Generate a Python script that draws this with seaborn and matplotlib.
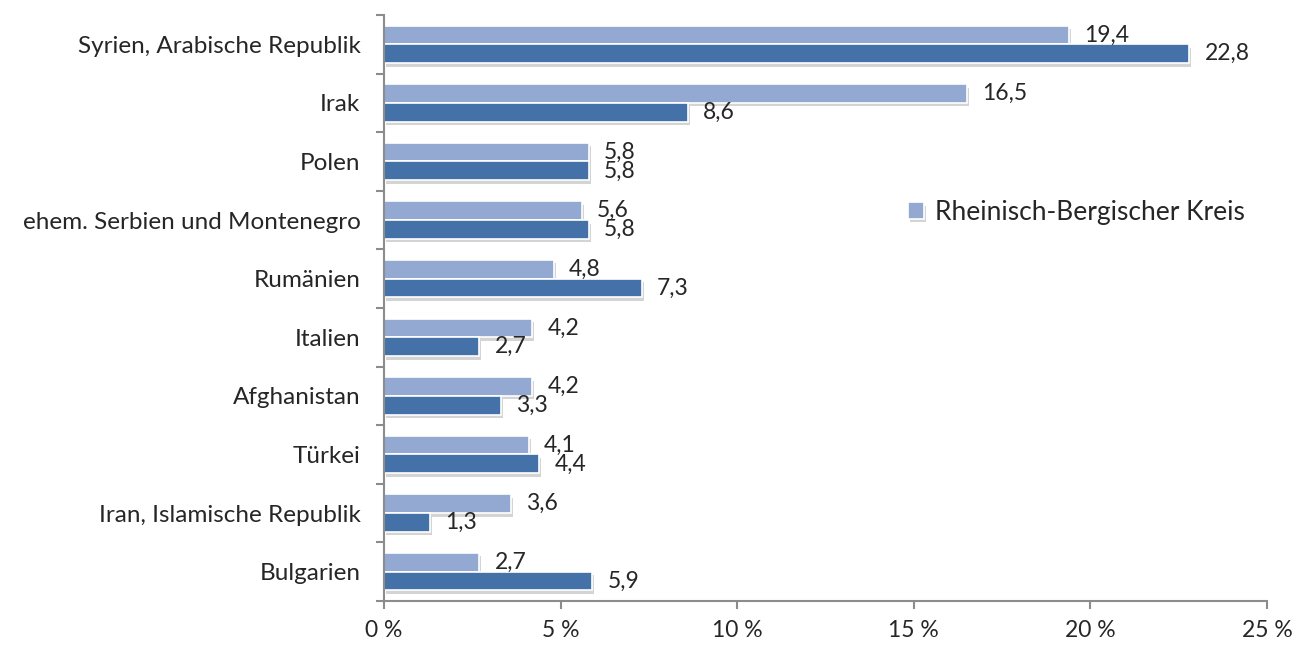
import pandas as pd
import matplotlib.pyplot as plt
import matplotlib.patheffects as pe
from matplotlib.ticker import FixedLocator, FuncFormatter
import seaborn as sns

laender = ["Syrien, Arabische Republik", "Irak", "Polen", "ehem. Serbien und Montenegro",
           "Rumänien", "Italien", "Afghanistan", "Türkei", "Iran, Islamische Republik", "Bulgarien"]
rbk = [19.4, 16.5, 5.8, 5.6, 4.8, 4.2, 4.2, 4.1, 3.6, 2.7]
nrw = [22.8, 8.6, 5.8, 5.8, 7.3, 2.7, 3.3, 4.4, 1.3, 5.9]
serien = ["Rheinisch-Bergischer Kreis", "Nordrhein-Westfalen"]
farben = ["#93A9D1", "#4472A8"]

df = pd.DataFrame({
    "Land": laender * 2,
    "Anteil": rbk + nrw,
    "Gebiet": [serien[0]] * len(laender) + [serien[1]] * len(laender),
})

sns.set_style("white")
plt.rcParams["font.family"] = ["Lato", "DejaVu Sans"]

fig = plt.figure(figsize=(12.97, 6.47), dpi=100)
ax = fig.add_axes([384 / 1297, 46 / 647, 883 / 1297, 586 / 647])

sns.barplot(data=df, y="Land", x="Anteil", hue="Gebiet", palette=farben, saturation=1,
            orient="h", width=0.64, edgecolor="white", linewidth=1.2, ax=ax)

schatten = [pe.SimplePatchShadow(offset=(1.5, -2.5), shadow_rgbFace="#a0a0a0", alpha=0.45), pe.Normal()]
for p in ax.patches:
    p.set_path_effects(schatten)

for cont in ax.containers:
    ax.bar_label(cont, labels=[f"{v:.1f}".replace(".", ",") for v in cont.datavalues],
                 padding=11, fontsize=16.5)

ax.set_xlim(0, 25)
ax.set_ylim(9.5, -0.5)
ax.set_xticks([0, 5, 10, 15, 20, 25])
ax.xaxis.set_major_formatter(FuncFormatter(lambda v, _: f"{v:.0f} %"))
ax.yaxis.set_minor_locator(FixedLocator([i - 0.5 for i in range(len(laender) + 1)]))
ax.tick_params(axis="y", which="major", length=0, labelsize=17.5, pad=17)
ax.tick_params(axis="y", which="minor", length=6, width=1.5, color="#8c8c8c", left=True)
ax.tick_params(axis="x", length=6, width=1.5, color="#8c8c8c", labelsize=16.5, pad=8, bottom=True)
ax.set_xlabel("")
ax.set_ylabel("")

for s in ["top", "right"]:
    ax.spines[s].set_visible(False)
for s in ["left", "bottom"]:
    ax.spines[s].set_color("#8c8c8c")
    ax.spines[s].set_linewidth(1.5)

h, l = ax.get_legend_handles_labels()
ax.legend(h[:1], l[:1], loc="upper left", bbox_to_anchor=(0.567, 0.725), frameon=False,
          fontsize=19, handlelength=0.6, handleheight=0.6, handletextpad=0.4)

fig.savefig("out.png", dpi=100)
